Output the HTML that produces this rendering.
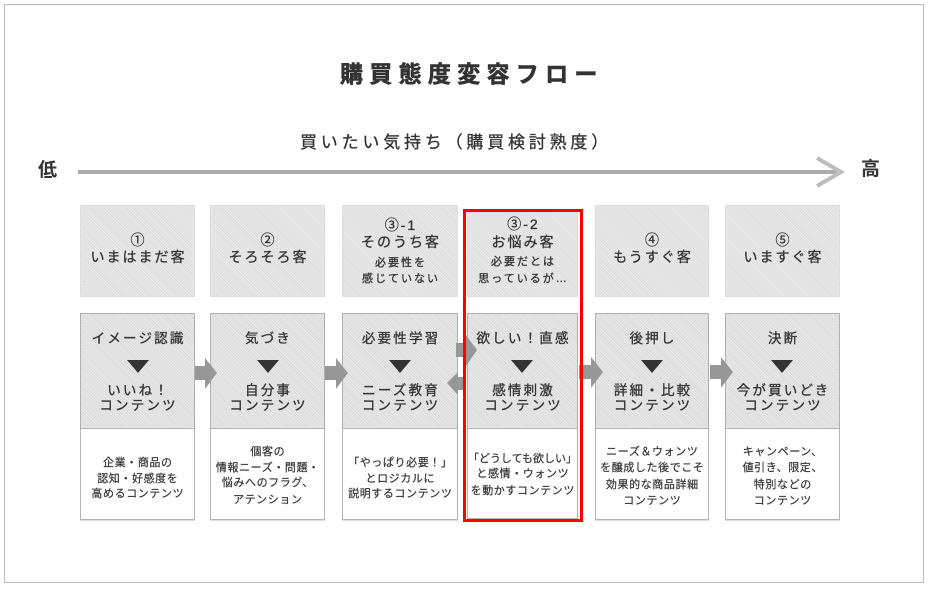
<!DOCTYPE html>
<html><head><meta charset="utf-8">
<style>
*{box-sizing:border-box;margin:0;padding:0}
html,body{width:932px;height:590px;background:#fff;overflow:hidden}
body{position:relative;font-family:"Liberation Sans","Noto Sans CJK JP",sans-serif;color:#333}
.frame{position:absolute;left:4px;top:4px;width:920px;height:579px;border:1px solid #bbb}
.abs{position:absolute}
.top{position:absolute;background:repeating-linear-gradient(45deg,#dcdcdc 0 1px,#ececec 1px 2px);border:1px solid #dedede}
.mid{position:absolute;background:repeating-linear-gradient(45deg,#d9d9d9 0 1px,#ebebeb 1px 2px);border:1px solid #b0b0b0}
.bot{position:absolute;background:#fff;border:1px solid #b4b4b4;box-shadow:0 1px 0 #ddd}
.L{position:absolute;height:18px;line-height:18px;text-align:center;white-space:nowrap;-webkit-text-stroke:0.3px #333}
.f14{font-size:14px;letter-spacing:2px;padding-left:2px}
.f13{font-size:13.5px;letter-spacing:2.2px;padding-left:2.2px}
.f11{font-size:11px;letter-spacing:2px;padding-left:2px}
.f10{font-size:11px;letter-spacing:0.6px;padding-left:0.6px;-webkit-text-stroke:0.2px #333}
.tri{position:absolute;width:0;height:0;border-left:11px solid transparent;border-right:11px solid transparent;border-top:13px solid #333}
.c1{left:80px;width:115px}
.c2{left:210px;width:115px}
.c3{left:342px;width:116px}
.c4{left:467px;width:111px}
.c5{left:595px;width:114px}
.c6{left:725px;width:115px}
.red{position:absolute;left:463px;top:209px;width:120px;height:313px;border:3px solid #f00}
</style></head><body>
<div class="frame"></div>

<div class="abs" style="left:340px;top:60px;height:28px;line-height:28px;font-size:23px;font-weight:700;letter-spacing:6.3px;color:#333;white-space:nowrap;-webkit-text-stroke:0.6px #333">購買態度変容フロー</div>
<div class="abs" style="left:300px;top:132px;height:22px;line-height:22px;font-size:17px;letter-spacing:3.8px;color:#333;white-space:nowrap;-webkit-text-stroke:0.3px #333">買いたい気持ち（購買検討熟度）</div>
<div class="abs" style="left:38px;top:160px;height:22px;line-height:22px;font-size:19px;font-weight:700;color:#333">低</div>
<div class="abs" style="left:861px;top:159px;height:22px;line-height:22px;font-size:19px;font-weight:700;color:#333">高</div>

<!-- boxes -->
<div class="top c1" style="top:205px;height:92px"></div>
<div class="top c2" style="top:205px;height:92px"></div>
<div class="top c3" style="top:205px;height:92px"></div>
<div class="top c4" style="top:212px;height:85px"></div>
<div class="top c5" style="top:205px;height:92px"></div>
<div class="top c6" style="top:205px;height:92px"></div>

<div class="mid c1" style="top:313px;height:116px"></div>
<div class="mid c2" style="top:313px;height:116px"></div>
<div class="mid c3" style="top:313px;height:116px"></div>
<div class="mid c4" style="top:313px;height:116px"></div>
<div class="mid c5" style="top:313px;height:116px"></div>
<div class="mid c6" style="top:313px;height:116px"></div>

<div class="bot c1" style="top:428px;height:92px"></div>
<div class="bot c2" style="top:428px;height:92px"></div>
<div class="bot c3" style="top:428px;height:92px"></div>
<div class="bot c4" style="top:428px;height:91px"></div>
<div class="bot c5" style="top:428px;height:92px"></div>
<div class="bot c6" style="top:428px;height:92px"></div>

<!-- arrows -->
<svg class="abs" style="left:0;top:0" width="932" height="590" viewBox="0 0 932 590">
  <line x1="78" y1="172" x2="840" y2="172" stroke="#acacac" stroke-width="4"/>
  <polyline points="817,158 841,172 817,186" fill="none" stroke="#bdbdbd" stroke-width="4"/>
  <g fill="#979797">
    <polygon points="195,366 205,366 205,358 217,373 205,389 205,380 195,380"/>
    <polygon points="325,366 336,366 336,358 348,373 336,389 336,380 325,380"/>
    <polygon points="456,343 466,343 466,335 477,350 466,366 466,357 456,357"/>
    <polygon points="466,377 458,377 458,372 447,383 458,395 458,390 466,390"/>
    <polygon points="579,365 591,365 591,357 603,372 591,388 591,379 579,379"/>
    <polygon points="710,365 721,365 721,357 733,372 721,388 721,379 710,379"/>
  </g>
</svg>

<!-- top box text -->
<div class="L f14 c1" style="top:231px">①</div>
<div class="L f14 c1" style="top:248px">いまはまだ客</div>
<div class="L f14 c2" style="top:231px">②</div>
<div class="L f14 c2" style="top:248px">そろそろ客</div>
<div class="L f14 c3" style="top:216px">③-1</div>
<div class="L f14 c3" style="top:233px">そのうち客</div>
<div class="L f11 c3" style="top:254px">必要性を</div>
<div class="L f11 c3" style="top:270px">感じていない</div>
<div class="L f14 c4" style="top:215px">③-2</div>
<div class="L f14 c4" style="top:233px">お悩み客</div>
<div class="L f11 c4" style="top:253px">必要だとは</div>
<div class="L f11 c4" style="top:270px">思っているが…</div>
<div class="L f14 c5" style="top:231px">④</div>
<div class="L f14 c5" style="top:248px">もうすぐ客</div>
<div class="L f14 c6" style="top:231px">⑤</div>
<div class="L f14 c6" style="top:248px">いますぐ客</div>

<!-- middle box text -->
<div class="L f13 c1" style="top:330px">イメージ認識</div>
<div class="tri" style="left:127px;top:360px"></div>
<div class="L f13 c1" style="top:382px">いいね！</div>
<div class="L f13 c1" style="top:397px">コンテンツ</div>

<div class="L f13 c2" style="top:330px">気づき</div>
<div class="tri" style="left:257px;top:360px"></div>
<div class="L f13 c2" style="top:382px">自分事</div>
<div class="L f13 c2" style="top:397px">コンテンツ</div>

<div class="L f13 c3" style="top:330px">必要性学習</div>
<div class="tri" style="left:389px;top:360px"></div>
<div class="L f13 c3" style="top:382px">ニーズ教育</div>
<div class="L f13 c3" style="top:397px">コンテンツ</div>

<div class="L f13 c4" style="top:330px">欲しい！直感</div>
<div class="tri" style="left:511px;top:360px"></div>
<div class="L f13 c4" style="top:382px">感情刺激</div>
<div class="L f13 c4" style="top:397px">コンテンツ</div>

<div class="L f13 c5" style="top:330px">後押し</div>
<div class="tri" style="left:641px;top:360px"></div>
<div class="L f13 c5" style="top:382px">詳細・比較</div>
<div class="L f13 c5" style="top:397px">コンテンツ</div>

<div class="L f13 c6" style="top:330px">決断</div>
<div class="tri" style="left:771px;top:360px"></div>
<div class="L f13 c6" style="top:382px">今が買いどき</div>
<div class="L f13 c6" style="top:397px">コンテンツ</div>

<!-- bottom box text -->
<div class="L f10 c1" style="top:454px">企業・商品の</div>
<div class="L f10 c1" style="top:470px">認知・好感度を</div>
<div class="L f10 c1" style="top:485px">高めるコンテンツ</div>

<div class="L f10 c2" style="top:443px">個客の</div>
<div class="L f10 c2" style="top:459px">情報ニーズ・問題・</div>
<div class="L f10 c2" style="top:474px">悩みへのフラグ、</div>
<div class="L f10 c2" style="top:491px">アテンション</div>

<div class="L f10 c3" style="top:454px">「やっぱり必要！」</div>
<div class="L f10 c3" style="top:470px">とロジカルに</div>
<div class="L f10 c3" style="top:485px">説明するコンテンツ</div>

<div class="L c4" style="top:450px;font-size:11px;letter-spacing:0;-webkit-text-stroke:0.2px #333">「どうしても欲しい」</div>
<div class="L f10 c4" style="top:465px">と感情・ウォンツ</div>
<div class="L f10 c4" style="top:482px">を動かすコンテンツ</div>

<div class="L f10 c5" style="top:443px">ニーズ＆ウォンツ</div>
<div class="L f10 c5" style="top:459px">を醸成した後でこそ</div>
<div class="L f10 c5" style="top:476px">効果的な商品詳細</div>
<div class="L f10 c5" style="top:492px">コンテンツ</div>

<div class="L f10 c6" style="top:443px">キャンペーン、</div>
<div class="L f10 c6" style="top:459px">値引き、限定、</div>
<div class="L f10 c6" style="top:476px">特別などの</div>
<div class="L f10 c6" style="top:492px">コンテンツ</div>

<div class="red"></div>
</body></html>
